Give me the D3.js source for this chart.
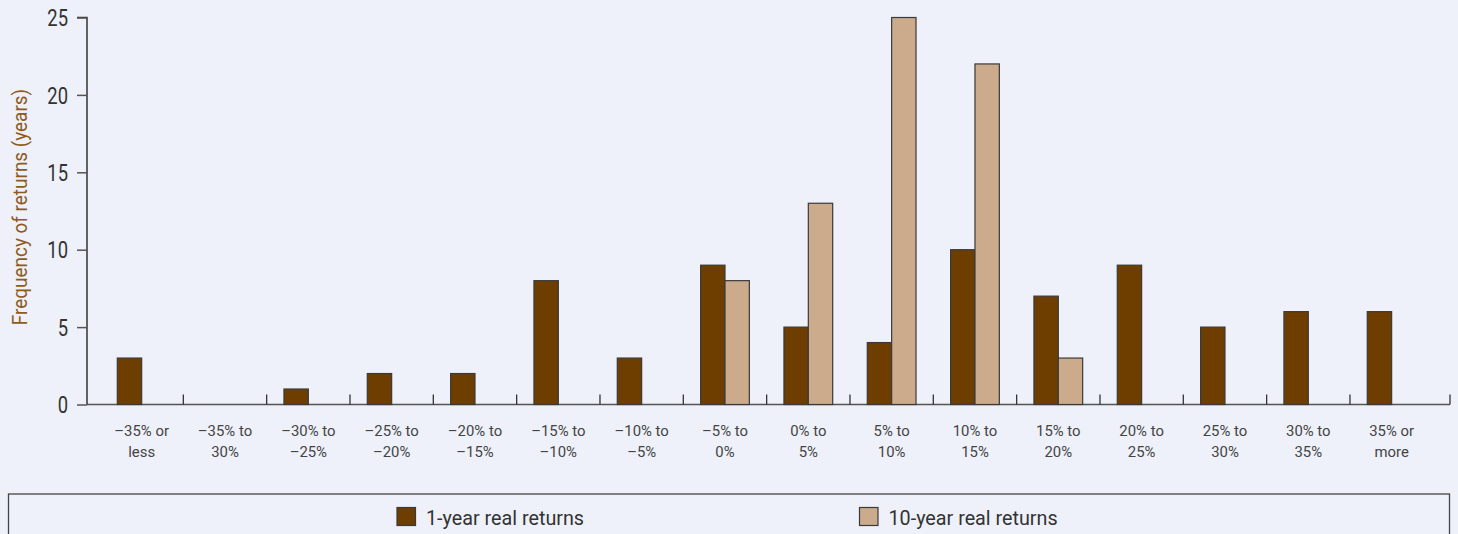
<!DOCTYPE html>
<html>
<head>
<meta charset="utf-8">
<script src="https://cdn.jsdelivr.net/npm/d3@7"></script>
<style>
  html, body { margin: 0; padding: 0; background: #eef1f9; }
  svg { display: block; }
  text { font-family: Roboto, "Liberation Sans", sans-serif; }
</style>
</head>
<body>
<script>
const categories = [
  ["\u201335% or", "less"], ["\u201335% to", "30%"], ["\u201330% to", "\u201325%"], ["\u201325% to", "\u201320%"],
  ["\u201320% to", "\u201315%"], ["\u201315% to", "\u201310%"], ["\u201310% to", "\u20135%"], ["\u20135% to", "0%"],
  ["0% to", "5%"], ["5% to", "10%"], ["10% to", "15%"], ["15% to", "20%"],
  ["20% to", "25%"], ["25% to", "30%"], ["30% to", "35%"], ["35% or", "more"]
];
const oneYear = [3, 0, 1, 2, 2, 8, 3, 9, 5, 4, 10, 7, 9, 5, 6, 6];
const tenYear = [0, 0, 0, 0, 0, 0, 0, 8, 13, 25, 22, 3, 0, 0, 0, 0];
const seriesNames = ["1-year real returns", "10-year real returns"];
const yTicks = [0, 5, 10, 15, 20, 25];

const W = 1458, H = 534;
const colors = ["#6e3d00", "#cbab8b"];
const svg = d3.select("body").append("svg").attr("width", W).attr("height", H);
svg.append("rect").attr("width", W).attr("height", H).attr("fill", "#eef1f9");

function condense(sel, factor) {
  sel.each(function() {
    const L = this.getComputedTextLength();
    d3.select(this).attr("textLength", L * factor).attr("lengthAdjust", "spacingAndGlyphs");
  });
}

const axisX0 = 87, axisX1 = 1450;
const y = d3.scaleLinear().domain([0, 25]).range([404.5, 17.5]);
const idx = d3.range(categories.length);
const x = d3.scaleBand().domain(idx).range([100, 1433.3]).paddingInner(0).paddingOuter(0);
const xs = d3.scaleBand().domain([0, 1]).range([0, x.bandwidth()]).paddingInner(0).paddingOuter(0.71);

// x axis baseline
svg.append("line").attr("x1", axisX0).attr("x2", axisX1).attr("y1", y(0)).attr("y2", y(0))
  .attr("stroke", "#555").attr("stroke-width", 1.5);
// boundary ticks (upward)
const bounds = idx.slice(1).map(i => x(i)).concat([axisX1]);
svg.append("g").selectAll("line").data(bounds).join("line")
  .attr("x1", d => d).attr("x2", d => d)
  .attr("y1", y(0)).attr("y2", y(0) - 10)
  .attr("stroke", "#333").attr("stroke-width", 1.3);

// bars
const groups = svg.append("g").selectAll("g").data(idx).join("g")
  .attr("transform", i => `translate(${x(i)},0)`);
groups.selectAll("rect").data(i => [oneYear[i], tenYear[i]].map((v, s) => ({v, s})))
  .join("rect")
  .attr("x", d => xs(d.s))
  .attr("width", xs.bandwidth())
  .attr("y", d => y(d.v))
  .attr("height", d => y(0) - y(d.v))
  .attr("fill", d => colors[d.s])
  .attr("stroke", "#3a3a3a")
  .attr("stroke-width", 1.2);

// y axis
const yAxis = d3.axisLeft(y).tickValues(yTicks).tickSize(10).tickPadding(9);
const gy = svg.append("g").attr("transform", `translate(${axisX0},0)`).call(yAxis);
gy.select(".domain").attr("stroke", "#333").attr("stroke-width", 1.5).attr("d", `M-10,${y(25)}H0V${y(0)}`);
gy.selectAll(".tick line").attr("stroke", "#555").attr("stroke-width", 1.5);
gy.selectAll(".tick text").attr("font-size", 23).attr("fill", "#333").attr("dy", "0.36em")
  .style("font-family", "Roboto, sans-serif");
condense(gy.selectAll(".tick text"), 0.8);

// x labels (two lines)
const lines = [0, 1];
lines.forEach(li => {
  const t = svg.append("g").selectAll("text").data(idx).join("text")
    .attr("x", i => x(i) + x.bandwidth() / 2)
    .attr("y", 436 + li * 21)
    .attr("text-anchor", "middle")
    .attr("font-size", 15.5)
    .attr("fill", "#444")
    .text(i => categories[i][li]);
  condense(t, 0.96);
});

// y title
const yt = svg.append("text")
  .attr("transform", `translate(27,207) rotate(-90)`)
  .attr("text-anchor", "middle")
  .attr("font-size", 19.5)
  .attr("fill", "#8f5a1c")
  .text("Frequency of returns (years)");
condense(yt, 0.97);

// legend box
svg.append("rect").attr("x", 8.5).attr("y", 494).attr("width", 1441).attr("height", 60)
  .attr("fill", "none").attr("stroke", "#444").attr("stroke-width", 1.3);
const legendX = [397, 859.5];
const lg = svg.append("g").selectAll("g").data(seriesNames).join("g")
  .attr("transform", (d, i) => `translate(${legendX[i]},507.5)`);
lg.append("rect").attr("width", 18.5).attr("height", 18).attr("fill", (d, i) => colors[i])
  .attr("stroke", "#3a3a3a").attr("stroke-width", 1.2);
const lt = lg.append("text").attr("x", 29).attr("y", 17).attr("font-size", 21).attr("fill", "#333").text(d => d);
condense(lt, 0.94);
</script>
</body>
</html>
